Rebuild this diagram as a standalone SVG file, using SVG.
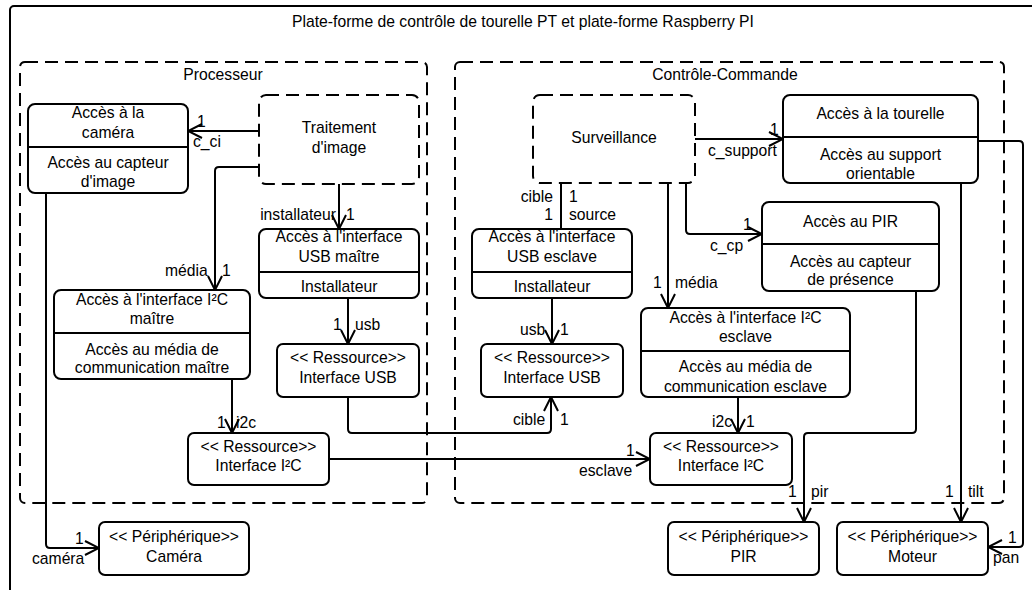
<svg xmlns="http://www.w3.org/2000/svg" width="1032" height="590" viewBox="0 0 1032 590">
<style>
text{font-family:"Liberation Sans",Arial,sans-serif;font-size:15.7px;fill:#000}
.c{text-anchor:middle}
.e{text-anchor:end}
.box{fill:#fff;stroke:#000;stroke-width:2}
.dbox{fill:#fff;stroke:#000;stroke-width:2;stroke-dasharray:13 7}
.frame{fill:none;stroke:#000;stroke-width:2;stroke-dasharray:13 7}
.div{stroke:#000;stroke-width:2}
.con path{fill:none;stroke:#000;stroke-width:2}
</style>
<defs>
<marker id="arr" viewBox="0 0 16 16" refX="15" refY="8" markerWidth="16" markerHeight="16" markerUnits="userSpaceOnUse" orient="auto">
<path d="M1,1 L15,8 L1,15" fill="none" stroke="#000" stroke-width="2"/>
</marker>
</defs>
<rect x="0" y="0" width="1032" height="590" fill="#fff"/>
<g id="outer">
<rect x="10" y="6" width="1040" height="600" rx="4" fill="none" stroke="#000" stroke-width="2"/>
<text class="c" x="523" y="27">Plate-forme de contrôle de tourelle PT et plate-forme Raspberry PI</text>
</g>
<g id="processeur">
<rect class="frame" x="20" y="62" width="407" height="441" rx="5"/>
<text class="c" x="223" y="80">Processeur</text>
</g>
<g id="controle">
<rect class="frame" x="455" y="62" width="549" height="441" rx="5"/>
<text class="c" x="725" y="80">Contrôle-Commande</text>
</g>
<g id="acces-camera">
<rect class="box" x="28" y="104" width="160" height="89" rx="7"/>
<line class="div" x1="28" y1="147" x2="188" y2="147"/>
<text class="c" x="108" y="118">Accès à la</text>
<text class="c" x="108" y="138">caméra</text>
<text class="c" x="108" y="168">Accès au capteur</text>
<text class="c" x="108" y="187">d'image</text>
</g>
<g id="traitement">
<rect class="dbox" x="259" y="95" width="160" height="89" rx="7"/>
<text class="c" x="339" y="133">Traitement</text>
<text class="c" x="339" y="153">d'image</text>
</g>
<g id="usb-maitre">
<rect class="box" x="259" y="229" width="160" height="69" rx="7"/>
<line class="div" x1="259" y1="272" x2="419" y2="272"/>
<text class="c" x="339" y="242">Accès à l'interface</text>
<text class="c" x="339" y="262">USB maître</text>
<text class="c" x="339" y="292">Installateur</text>
</g>
<g id="i2c-maitre">
<rect class="box" x="54" y="290" width="196" height="89" rx="7"/>
<line class="div" x1="54" y1="333" x2="250" y2="333"/>
<text class="c" x="152" y="305">Accès à l'interface I²C</text>
<text class="c" x="152" y="324">maître</text>
<text class="c" x="152" y="355">Accès au média de</text>
<text class="c" x="152" y="373">communication maître</text>
</g>
<g id="res-usb-left">
<rect class="box" x="277" y="344" width="142" height="53" rx="6"/>
<text class="c" x="348" y="363">&lt;&lt; Ressource&gt;&gt;</text>
<text class="c" x="348" y="383">Interface USB</text>
</g>
<g id="res-i2c-left">
<rect class="box" x="188" y="433" width="141" height="52" rx="6"/>
<text class="c" x="258.5" y="452">&lt;&lt; Ressource&gt;&gt;</text>
<text class="c" x="258.5" y="471">Interface I²C</text>
</g>
<g id="surveillance">
<rect class="dbox" x="533" y="95" width="162" height="88" rx="7"/>
<text class="c" x="614" y="143">Surveillance</text>
</g>
<g id="usb-esclave">
<rect class="box" x="472" y="229" width="160" height="69" rx="7"/>
<line class="div" x1="472" y1="272" x2="632" y2="272"/>
<text class="c" x="552" y="242">Accès à l'interface</text>
<text class="c" x="552" y="262">USB esclave</text>
<text class="c" x="552" y="292">Installateur</text>
</g>
<g id="res-usb-right">
<rect class="box" x="481" y="344" width="142" height="53" rx="6"/>
<text class="c" x="552" y="363">&lt;&lt; Ressource&gt;&gt;</text>
<text class="c" x="552" y="383">Interface USB</text>
</g>
<g id="i2c-esclave">
<rect class="box" x="641" y="308" width="209" height="89" rx="7"/>
<line class="div" x1="641" y1="351" x2="850" y2="351"/>
<text class="c" x="745.5" y="323">Accès à l'interface I²C</text>
<text class="c" x="745.5" y="342">esclave</text>
<text class="c" x="745.5" y="372">Accès au média de</text>
<text class="c" x="745.5" y="392">communication esclave</text>
</g>
<g id="res-i2c-right">
<rect class="box" x="650" y="433" width="142" height="52" rx="6"/>
<text class="c" x="721" y="452">&lt;&lt; Ressource&gt;&gt;</text>
<text class="c" x="721" y="471">Interface I²C</text>
</g>
<g id="tourelle">
<rect class="box" x="783" y="95" width="195" height="88" rx="7"/>
<line class="div" x1="783" y1="137" x2="978" y2="137"/>
<text class="c" x="880.5" y="119">Accès à la tourelle</text>
<text class="c" x="880.5" y="160">Accès au support</text>
<text class="c" x="880.5" y="179">orientable</text>
</g>
<g id="pir">
<rect class="box" x="762" y="202" width="177" height="89" rx="7"/>
<line class="div" x1="762" y1="244" x2="939" y2="244"/>
<text class="c" x="850.5" y="227">Accès au PIR</text>
<text class="c" x="850.5" y="267">Accès au capteur</text>
<text class="c" x="850.5" y="285">de présence</text>
</g>
<g id="periph-camera">
<rect class="box" x="99" y="522" width="150" height="53" rx="6"/>
<text class="c" x="174" y="542">&lt;&lt; Périphérique&gt;&gt;</text>
<text class="c" x="174" y="562">Caméra</text>
</g>
<g id="periph-pir">
<rect class="box" x="668" y="522" width="151" height="53" rx="6"/>
<text class="c" x="743.5" y="542">&lt;&lt; Périphérique&gt;&gt;</text>
<text class="c" x="743.5" y="562">PIR</text>
</g>
<g id="periph-moteur">
<rect class="box" x="837" y="522" width="151" height="53" rx="6"/>
<text class="c" x="912.5" y="542">&lt;&lt; Périphérique&gt;&gt;</text>
<text class="c" x="912.5" y="562">Moteur</text>
</g>
<g id="connectors" class="con">
<path d="M259,131 H188" marker-end="url(#arr)"/>
<path d="M259,167 H219 Q215,167 215,171 V290" marker-end="url(#arr)"/>
<path d="M339,184 V229" marker-end="url(#arr)"/>
<path d="M348,298 V344" marker-end="url(#arr)"/>
<path d="M232,379 V433" marker-end="url(#arr)"/>
<path d="M348,397 V429 Q348,433 352,433 H547 Q551,433 551,429 V397" marker-end="url(#arr)"/>
<path d="M329,459 H650" marker-end="url(#arr)"/>
<path d="M561,183 V229"/>
<path d="M552,298 V344" marker-end="url(#arr)"/>
<path d="M668,183 V308" marker-end="url(#arr)"/>
<path d="M738,397 V433" marker-end="url(#arr)"/>
<path d="M695,139 H783" marker-end="url(#arr)"/>
<path d="M686,183 V230 Q686,234 690,234 H762" marker-end="url(#arr)"/>
<path d="M46,193 V544 Q46,548 50,548 H99" marker-end="url(#arr)"/>
<path d="M916,291 V429 Q916,433 912,433 H808 Q804,433 804,437 V522" marker-end="url(#arr)"/>
<path d="M961,183 V522" marker-end="url(#arr)"/>
<path d="M978,141 H1019 Q1023,141 1023,145 V543 Q1023,547 1019,547 H988" marker-end="url(#arr)"/>
</g>
<g id="labels">
<text x="197" y="127">1</text>
<text x="193" y="147">c_ci</text>
<text x="165" y="276">média</text>
<text x="222" y="276">1</text>
<text class="e" x="336" y="220">installateur</text>
<text x="346" y="220">1</text>
<text x="333" y="330">1</text>
<text x="355" y="330">usb</text>
<text x="217" y="428">1</text>
<text x="236" y="428">i2c</text>
<text x="513" y="425">cible</text>
<text x="560" y="425">1</text>
<text x="626" y="456">1</text>
<text x="579" y="476">esclave</text>
<text class="e" x="553" y="202">cible</text>
<text x="569" y="202">1</text>
<text class="e" x="553" y="220">1</text>
<text x="569" y="220">source</text>
<text x="520" y="335">usb</text>
<text x="560" y="335">1</text>
<text x="653" y="288">1</text>
<text x="675" y="288">média</text>
<text x="712" y="427">i2c</text>
<text x="746" y="427">1</text>
<text x="770" y="135">1</text>
<text x="708" y="156">c_support</text>
<text x="743" y="230">1</text>
<text x="710" y="251">c_cp</text>
<text x="75" y="544">1</text>
<text x="32" y="564">caméra</text>
<text x="788" y="497">1</text>
<text x="811" y="497">pir</text>
<text x="945" y="497">1</text>
<text x="968" y="497">tilt</text>
<text x="1008" y="543">1</text>
<text x="993" y="563">pan</text>
</g>
</svg>
